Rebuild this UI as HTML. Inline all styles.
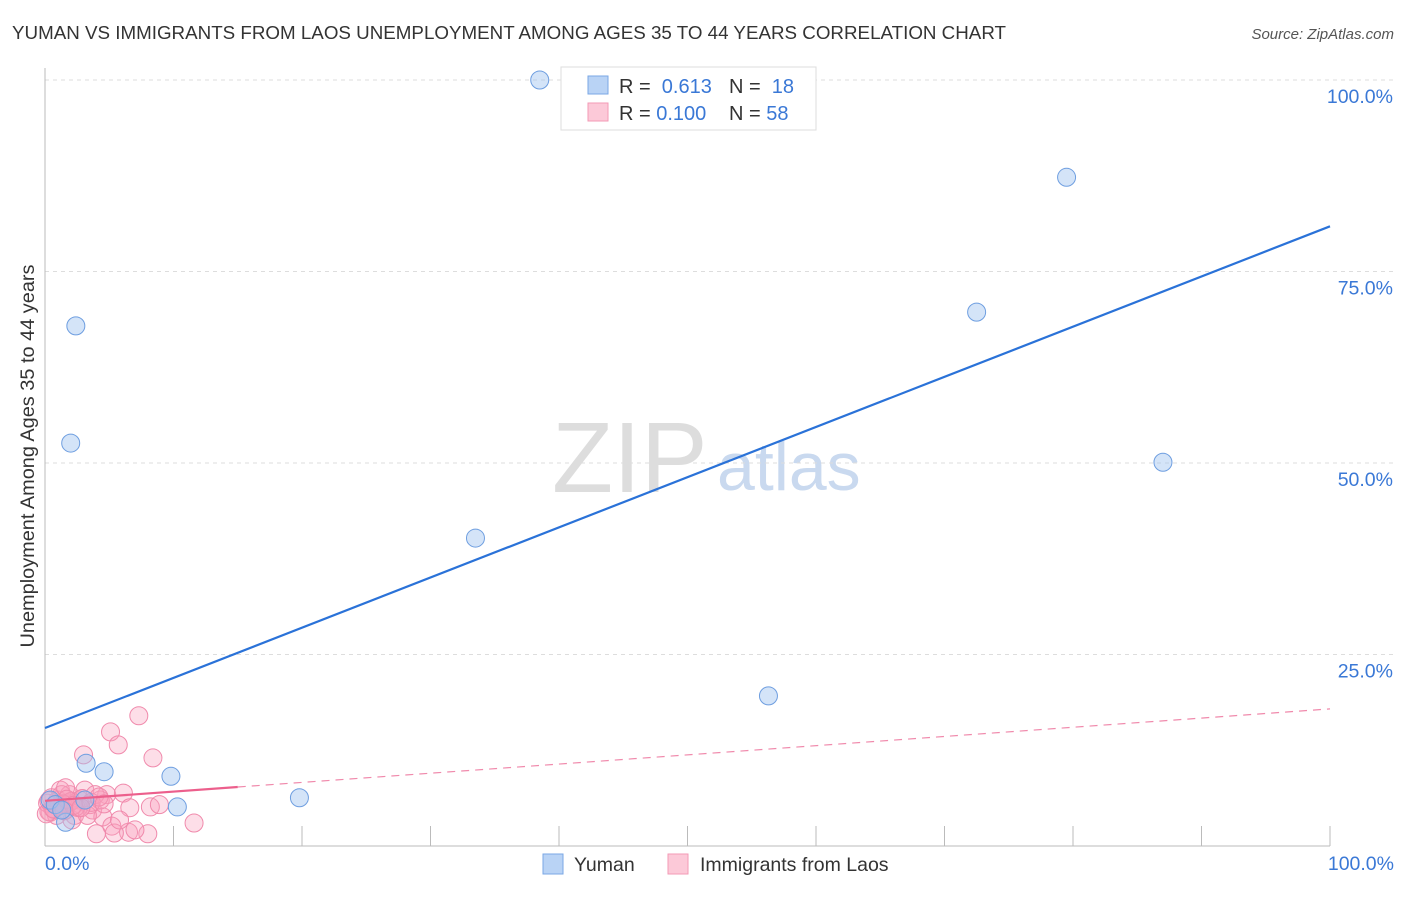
<!DOCTYPE html>
<html><head><meta charset="utf-8"><style>
body{margin:0;background:#fff;font-family:"Liberation Sans",sans-serif}
svg text{font-family:"Liberation Sans",sans-serif}
</style></head><body>
<svg width="1406" height="892" xmlns="http://www.w3.org/2000/svg">
<text x="12" y="39" font-size="18" fill="#333" textLength="994" lengthAdjust="spacingAndGlyphs">YUMAN VS IMMIGRANTS FROM LAOS UNEMPLOYMENT AMONG AGES 35 TO 44 YEARS CORRELATION CHART</text>
<text x="1394" y="39" font-size="15" fill="#555" font-style="italic" text-anchor="end">Source: ZipAtlas.com</text>
<text x="552" y="492" font-size="100" fill="#ddd" font-family="Liberation Serif">ZIP</text>
<text x="717" y="490" font-size="68" fill="#c9d9ef">atlas</text>
<g id="grid"></g>
<g id="axes"></g>
<g id="marks"></g>
<text transform="translate(34,456) rotate(-90)" font-size="19" fill="#333" text-anchor="middle" textLength="383" lengthAdjust="spacingAndGlyphs">Unemployment Among Ages 35 to 44 years</text>
<g>
<rect x="561" y="67" width="255" height="63" fill="#fff" stroke="#ddd"/>
<rect x="588" y="76" width="20" height="18" fill="#b9d3f5" stroke="#7aa7e5"/>
<rect x="588" y="103" width="20" height="18" fill="#fcc9d8" stroke="#f39ab6"/>
<text x="619" y="93" font-size="20" fill="#333">R = <tspan fill="#3a78d6">&#160;0.613</tspan></text>
<text x="729" y="93" font-size="20" fill="#333">N = <tspan fill="#3a78d6">&#160;18</tspan></text>
<text x="619" y="120" font-size="20" fill="#333">R = <tspan fill="#3a78d6">0.100</tspan></text>
<text x="729" y="120" font-size="20" fill="#333">N = <tspan fill="#3a78d6">58</tspan></text>
</g>
<g>
<rect x="543" y="854" width="20" height="20" fill="#b9d3f5" stroke="#7aa7e5"/>
<text x="574" y="871" font-size="19.5" fill="#333">Yuman</text>
<rect x="668" y="854" width="20" height="20" fill="#fcc9d8" stroke="#f39ab6"/>
<text x="700" y="871" font-size="19.5" fill="#333">Immigrants from Laos</text>
</g>
</svg>
<script>
const yumanX=[38.5,79.5,72.5,87,33.5,56.3,2.4,2,3.2,4.6,9.8,10.3,19.8,1.6,0.4,0.8,3.1,1.3];
const yumanY=[100,87.3,69.7,50.1,40.2,19.6,67.9,52.6,10.8,9.7,9.1,5.1,6.3,3.1,6,5.4,6,4.7];
const laosX=[7.3,5.1,5.7,3.0,8.4,4.8,6.1,6.6,3.7,4.5,5.2,6.5,8.2,11.6,5.4,4.0,1.2,1.9,2.7,0.8,1.6,2.3,0.4,1.0,1.8,3.1,3.5,2.1,1.3,4.3,0.5,2.6,1.6,3.3,0.9,3.9,8.0,5.8,7.0,0.2,8.9,0.3,1.1,2.0,2.9,0.6,1.4,2.4,3.6,4.2,0.1,0.7,1.7,2.2,0.3,1.5,2.8,4.6];
const laosY=[17.0,14.9,13.2,11.9,11.5,6.7,6.9,5.0,4.7,3.8,2.6,1.8,5.1,3.0,1.7,1.6,7.3,6.7,6.0,5.4,4.7,4.0,4.4,6.0,5.6,7.3,5.4,3.4,6.7,6.0,6.3,5.0,7.6,4.0,4.0,6.7,1.6,3.4,2.1,5.6,5.4,4.5,5.2,5.8,6.2,4.9,5.5,5.1,5.7,6.4,4.2,4.8,6.1,5.3,5.9,4.6,5.0,5.5];
const yTicks=[25,50,75,100];
const yTickLabels=["25.0%","50.0%","75.0%","100.0%"];
const xTicks=[0,10,20,30,40,50,60,70,80,90,100];
const blueLine=[15.4,80.9];
const pinkLine=[5.9,17.9];
const pinkSolidEnd=15;
const X=v=>45+v*12.85, Y=v=>846-v*7.66;
const NS="http://www.w3.org/2000/svg";
function mk(t,a,p){const e=document.createElementNS(NS,t);for(const k in a)e.setAttribute(k,a[k]);p.appendChild(e);return e;}
const grid=document.getElementById('grid'),axes=document.getElementById('axes'),marks=document.getElementById('marks');
yTicks.forEach((t,i)=>{
 const l=mk('line',{x1:45,x2:1394,y1:Y(t),y2:Y(t),stroke:'#ddd','stroke-dasharray':'4,4'},grid);
 
 
 const tx=mk('text',{x:1393,y:Y(t)+23,'font-size':19.5,fill:'#3a78d6','text-anchor':'end'},axes);
 tx.textContent=yTickLabels[i];
 
 
});
const ax=mk('line',{x1:45,x2:1330,y1:846,y2:846,stroke:'#bbb'},axes);


const ay=mk('line',{x1:45,x2:45,y1:68,y2:846,stroke:'#bbb'},axes);


xTicks.forEach(t=>{const l=mk('line',{x1:X(t),x2:X(t),y1:826,y2:846,stroke:'#bbb'},axes);
 
 });
[[0,'0.0%','start',45],[100,'100.0%','end',1394]].forEach(d=>{const t=mk('text',{x:d[3],y:870,'font-size':19.5,fill:'#3a78d6','text-anchor':d[2]},axes);t.textContent=d[1];
 
 });
laosX.forEach((v,i)=>{const c=mk('circle',{cx:X(v),cy:Y(laosY[i]),r:9,fill:'rgba(248,160,188,0.35)',stroke:'#f08aac','stroke-width':1},marks);
 
 });
yumanX.forEach((v,i)=>{const c=mk('circle',{cx:X(v),cy:Y(yumanY[i]),r:9,fill:'rgba(160,195,240,0.45)',stroke:'#6e9ee0','stroke-width':1},marks);
 
 });
const bl=mk('line',{x1:X(0),y1:Y(blueLine[0]),x2:X(100),y2:Y(blueLine[1]),stroke:'#2a72d8','stroke-width':2.2},marks);


const py=v=>pinkLine[0]+(pinkLine[1]-pinkLine[0])*v/100;
const ps=mk('line',{x1:X(0),y1:Y(py(0)),x2:X(pinkSolidEnd),y2:Y(py(pinkSolidEnd)),stroke:'#ec5f8c','stroke-width':2.2},marks);


const pd=mk('line',{x1:X(pinkSolidEnd),y1:Y(py(pinkSolidEnd)),x2:X(100),y2:Y(py(100)),stroke:'#f08aac','stroke-width':1.2,'stroke-dasharray':'8,6'},marks);


</script>
</body></html>
